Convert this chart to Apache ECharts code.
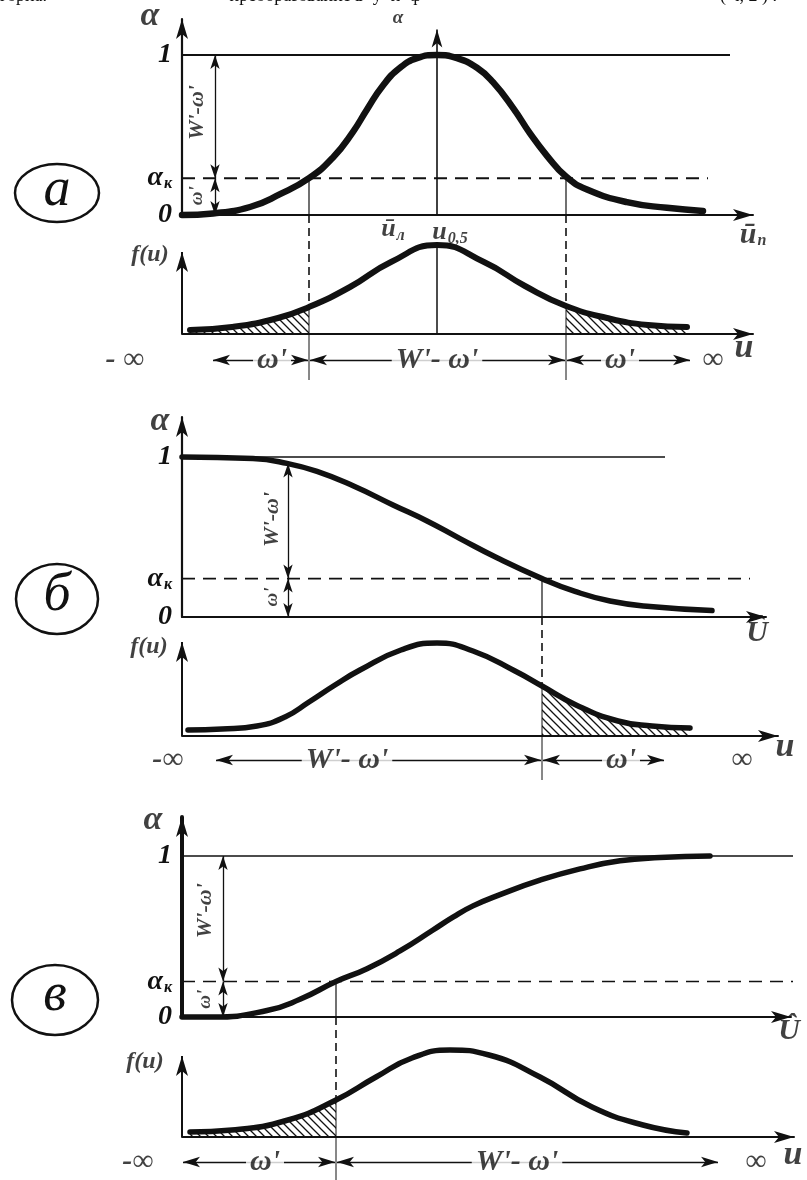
<!DOCTYPE html>
<html><head><meta charset="utf-8">
<script src="https://cdn.jsdelivr.net/npm/echarts@6/dist/echarts.min.js"></script>
<style>html,body{margin:0;padding:0;background:#fff}#c{width:807px;height:1180px}</style>
</head><body><div id="c"></div>
<script>
// ---------- DATA (u in drawing units, α in 0..1, f in arbitrary density units) ----------
// Panel а
const A_AK = 0.23;
const aAlphaU = [0,3.1,6.8,9.8,12.7,15.1,17.1,18.5,20.1,21.8,23.5,25.5,27.5,29.5,31.1,33.1,34.8,36.5,38.4,40.5,44.5,48.5,52.1];
const aAlphaV = [0,0.01,0.05,0.13,0.23,0.36,0.52,0.66,0.81,0.92,0.98,1.00,0.98,0.92,0.83,0.67,0.51,0.37,0.24,0.16,0.08,0.045,0.025];
const aFU = [0.8,5.0,9.6,12.7,16.8,20.9,25.5,30.2,34.3,38.4,42.5,46.6,50.5];
const aFV = [0.04,0.07,0.16,0.27,0.47,0.72,0.89,0.72,0.48,0.28,0.16,0.09,0.07];
const aBounds = [12.7, 38.4];
const aCenter = 25.5;
// Panel б
const B_AK = 0.24;
const bAlphaU = [0,7.1,10.5,13.5,17.1,21.1,24.5,27.8,31.5,36.0,39.3,42.8,46.8,53.0];
const bAlphaV = [1.0,0.99,0.96,0.91,0.82,0.70,0.60,0.49,0.37,0.24,0.16,0.10,0.065,0.04];
const bFU = [0.6,4.0,7.5,10.3,12.7,15.3,17.8,21.9,25.5,29.1,33.3,36.0,39.4,43.6,47.0,50.8];
const bFV = [0.06,0.07,0.10,0.19,0.34,0.51,0.66,0.86,0.93,0.85,0.65,0.50,0.31,0.15,0.10,0.08];
const bBound = 36.0;
// Panel в
const C_AK = 0.22;
const cAlphaU = [0,3.1,8.5,11.8,15.4,18.5,21.8,25.1,27.1,29.1,31.8,35.8,39.8,43.8,47.8,52.8];
const cAlphaV = [0,0.0,0.04,0.11,0.22,0.30,0.41,0.54,0.62,0.69,0.76,0.85,0.92,0.97,0.99,1.0];
const cFU = [0.8,5.0,10.6,15.4,19.4,23.0,26.8,30.7,35.8,41.0,46.1,50.5];
const cFV = [0.05,0.07,0.17,0.37,0.60,0.79,0.87,0.82,0.60,0.30,0.12,0.04];
const cBound = 15.4;

// ---------- STYLE ----------
const INK = '#111';
const FONT = '"Liberation Serif","DejaVu Serif",serif';
const SMOOTH = 0.5;
const grids = [
  {left:182, top:19,   width:571, height:196},
  {left:182, top:252,  width:571, height:133},
  {left:182, top:417,  width:584, height:200},
  {left:182, top:642,  width:596, height:143},
  {left:182, top:817,  width:609, height:200},
  {left:182, top:1056, width:612, height:124}
];
const xMax = [57.1,57.1,58.4,59.6,60.9,61.2];
const yMin = [0,-0.51,0,-0.49,0,-0.43];
const yMax = [1.225,0.82,1.25,0.94,1.242,0.81];
const akOf = {0:A_AK, 2:B_AK, 4:C_AK};

const hatchCanvas = document.createElement('canvas');
hatchCanvas.width = 8; hatchCanvas.height = 8;
(function(){const g=hatchCanvas.getContext('2d');g.strokeStyle=INK;g.lineWidth=1.3;g.beginPath();
 g.moveTo(0,0);g.lineTo(8,8);g.moveTo(-4,4);g.lineTo(4,12);g.moveTo(4,-4);g.lineTo(12,4);g.stroke();})();

const RICH = {
  s:{fontSize:16, fontFamily:FONT, fontStyle:'italic', fontWeight:'bold', color:INK, padding:[12,0,0,1]}
};

const series = [];
const zip = (us,vs)=>us.map((u,i)=>[u,vs[i]]);
function curve(g, us, vs, w){
  series.push({type:'line', xAxisIndex:g, yAxisIndex:g, data:zip(us,vs), smooth:SMOOTH, symbol:'none', clip:false, silent:true,
    lineStyle:{color:INK, width:w, cap:'round', join:'round'}, z:5, animation:false});
}
function hatch(g, us, vs, lo, hi){
  const pts = zip(us,vs).filter(p=>p[0]>=lo-1e-9 && p[0]<=hi+1e-9);
  series.push({type:'line', xAxisIndex:g, yAxisIndex:g, data:pts, smooth:SMOOTH, symbol:'none', clip:false, silent:true,
    lineStyle:{width:0, opacity:0}, areaStyle:{color:{image:hatchCanvas, repeat:'repeat'}, opacity:1}, z:3, animation:false});
}
function seg(g, pts, opt){
  opt = opt || {};
  series.push({type:'line', xAxisIndex:g, yAxisIndex:g, data:pts, symbol:'none', clip:false, silent:true,
    lineStyle:{color:INK, width:opt.w||1.3, type:opt.dash||'solid'}, z:4, animation:false});
}
function arrows(g, list){
  series.push({type:'line', xAxisIndex:g, yAxisIndex:g, data:[[0,0]], symbol:'none', silent:true, lineStyle:{opacity:0}, z:4, animation:false,
    markLine:{silent:true, animation:false, label:{show:false}, emphasis:{disabled:true},
      lineStyle:{color:INK, width:1.3, type:'solid'},
      data:list.map(l=>{
        const s = l.sym || ['arrow','arrow'];
        const sz = l.size || [7,14];
        return [{coord:l.a, symbol:s[0], symbolSize:sz, lineStyle:{color:INK, width:l.w||1.3, type:'solid'}},
                {coord:l.b, symbol:s[1], symbolSize:sz}];
      })}});
}
function texts(g, list){
  series.push({type:'scatter', xAxisIndex:g, yAxisIndex:g, clip:false, silent:true, symbolSize:1,
    itemStyle:{color:'rgba(0,0,0,0)'}, z:10, animation:false,
    data:list.map(t=>({value:[t.u,t.v], label:{show:true, position:'inside', formatter:t.text, rotate:t.rot||0,
      fontSize:t.size||20, fontFamily:FONT, fontStyle:'italic', fontWeight:'bold', color:INK,
      backgroundColor:t.bg?'#fff':'transparent', padding:t.bg?[0,4]:0, rich:RICH}}))});
}
const BIG = [8,17];

// ---------- Panel а ----------
hatch(1, aFU, aFV, aFU[0], aBounds[0]);
hatch(1, aFU, aFV, aBounds[1], aFU[aFU.length-1]);
curve(0, aAlphaU, aAlphaV, 6.5);
curve(1, aFU, aFV, 6);
seg(0, [[0,1],[54.8,1]], {w:2.2});
seg(0, [[0,A_AK],[52.6,A_AK]], {w:2, dash:[13,8]});
aBounds.forEach(b=>{
  seg(0, [[b,A_AK],[b,0]], {w:1.2});
  const fb = aFV[aFU.indexOf(b)];
  seg(1, [[b,1.19],[b,fb]], {w:1.6, dash:[8,5]});
  seg(1, [[b,fb],[b,-0.46]], {w:1});
});
seg(1, [[aCenter,0.89],[aCenter,0]], {w:1.5});
arrows(0, [
  {a:[3.3,1], b:[3.3,A_AK]}, {a:[3.3,A_AK], b:[3.3,0]},
  {a:[aCenter,0], b:[aCenter,1.16], sym:['none','arrow'], size:[8,18], w:1.6}
]);
arrows(1, [
  {a:[0,0], b:[0,0.819], sym:['none','arrow'], size:[9,20], w:2},
  {a:[3.1,-0.26], b:[12.6,-0.26], size:BIG}, {a:[12.8,-0.26], b:[38.3,-0.26], size:BIG}, {a:[38.5,-0.26], b:[50.8,-0.26], size:BIG}
]);
texts(0, [
  {u:-3.2, v:1.24, text:'α', size:34},
  {u:21.6, v:1.23, text:'α', size:19},
  {u:1.5, v:0.64, text:"W'-ω'", rot:90, size:22},
  {u:1.5, v:0.12, text:"ω'", rot:90, size:19},
  {u:21.1, v:-0.09, text:'ū{s|л}', size:26},
  {u:26.8, v:-0.11, text:'u{s|0,5}', size:26},
  {u:57.1, v:-0.125, text:'ū{s|п}', size:30}
]);
texts(1, [
  {u:-3.2, v:0.79, text:'f(u)', size:24},
  {u:-5.7, v:-0.26, text:'- ∞', size:30},
  {u:9.0, v:-0.26, text:"ω'", size:30, bg:true},
  {u:25.5, v:-0.26, text:"W'- ω'", size:30, bg:true},
  {u:43.8, v:-0.26, text:"ω'", size:30, bg:true},
  {u:53.1, v:-0.26, text:'∞', size:30},
  {u:56.2, v:-0.14, text:'u', size:34}
]);

// ---------- Panel б ----------
hatch(3, bFU, bFV, bBound, bFU[bFU.length-1]);
curve(2, bAlphaU, bAlphaV, 5.5);
curve(3, bFU, bFV, 5.5);
seg(2, [[0,1],[48.3,1]], {w:1.6});
seg(2, [[0,B_AK],[56.8,B_AK]], {w:1.6, dash:[13,8]});
seg(2, [[bBound,B_AK],[bBound,0]], {w:1.2});
seg(3, [[bBound,1.19],[bBound,0.50]], {w:1.6, dash:[8,5]});
seg(3, [[bBound,0.50],[bBound,-0.44]], {w:1});
arrows(2, [{a:[10.6,0.96], b:[10.6,B_AK]}, {a:[10.6,B_AK], b:[10.6,0]}]);
arrows(3, [
  {a:[0,0], b:[0,0.939], sym:['none','arrow'], size:[9,20], w:2},
  {a:[3.4,-0.24], b:[35.9,-0.24], size:BIG}, {a:[36.1,-0.24], b:[48.2,-0.24], size:BIG}
]);
texts(2, [
  {u:-2.2, v:1.225, text:'α', size:34},
  {u:9.0, v:0.61, text:"W'-ω'", rot:90, size:22},
  {u:9.0, v:0.125, text:"ω'", rot:90, size:19},
  {u:57.5, v:-0.1, text:'Û', size:30}
]);
texts(3, [
  {u:-3.3, v:0.89, text:'f(u)', size:24},
  {u:-1.4, v:-0.24, text:'-∞', size:30},
  {u:16.5, v:-0.24, text:"W'- ω'", size:30, bg:true},
  {u:43.9, v:-0.24, text:"ω'", size:30, bg:true},
  {u:56.0, v:-0.24, text:'∞', size:30},
  {u:60.3, v:-0.11, text:'u', size:34}
]);

// ---------- Panel в ----------
hatch(5, cFU, cFV, cFU[0], cBound);
curve(4, cAlphaU, cAlphaV, 5.5);
curve(5, cFU, cFV, 5.5);
seg(4, [[0,1],[62.5,1]], {w:1.6});
seg(4, [[0,C_AK],[62.5,C_AK]], {w:1.6, dash:[13,8]});
seg(4, [[cBound,C_AK],[cBound,0]], {w:1.2});
seg(5, [[cBound,1.20],[cBound,0.37]], {w:1.6, dash:[8,5]});
seg(5, [[cBound,0.37],[cBound,-0.43]], {w:1});
arrows(4, [{a:[4.1,1], b:[4.1,C_AK]}, {a:[4.1,C_AK], b:[4.1,0]}]);
arrows(5, [
  {a:[0,0], b:[0,0.809], sym:['none','arrow'], size:[9,20], w:2},
  {a:[0.1,-0.25], b:[15.3,-0.25], size:BIG}, {a:[15.5,-0.25], b:[53.6,-0.25], size:BIG}
]);
texts(4, [
  {u:-2.9, v:1.22, text:'α', size:34},
  {u:2.3, v:0.66, text:"W'-ω'", rot:90, size:22},
  {u:2.3, v:0.11, text:"ω'", rot:90, size:19},
  {u:60.7, v:-0.09, text:'Û', size:30}
]);
texts(5, [
  {u:-3.7, v:0.75, text:'f(u)', size:24},
  {u:-4.4, v:-0.25, text:'-∞', size:30},
  {u:8.3, v:-0.25, text:"ω'", size:30, bg:true},
  {u:33.5, v:-0.25, text:"W'- ω'", size:30, bg:true},
  {u:57.4, v:-0.25, text:'∞', size:30},
  {u:61.1, v:-0.18, text:'u', size:34}
]);

// ---------- AXES ----------
const xAxis = grids.map((g,i)=>({gridIndex:i, type:'value', min:0, max:xMax[i],
  axisLine:{show:true, onZero:true, symbol:['none','arrow'], symbolSize:[9,20], lineStyle:{color:INK, width:2}},
  axisTick:{show:false}, axisLabel:{show:false}, splitLine:{show:false}}));
const yAxis = grids.map((g,i)=>{
  const top = (i%2===0);
  const ak = akOf[i];
  return {gridIndex:i, type:'value', min:yMin[i], max:yMax[i], show:true,
    axisLine:{show:top, onZero:true, symbol:['none','arrow'], symbolSize:[9,20], lineStyle:{color:INK, width: i===4?4:2.2}},
    axisTick:{show:false}, splitLine:{show:false},
    axisLabel:{show:top, customValues: top?[0, ak, 1]:undefined, margin:10, color:INK,
      fontFamily:FONT, fontStyle:'italic', fontWeight:'bold', fontSize:28,
      formatter:(v)=>{ if (Math.abs(v)<1e-6) return '0'; if (Math.abs(v-1)<1e-6) return '1'; return 'α{s|к}'; },
      rich:{s:{fontSize:16, fontFamily:FONT, fontStyle:'italic', fontWeight:'bold', color:INK, padding:[12,0,0,1]}}}};
});

const letterStyle = {fontSize:54, fontStyle:'italic', fontFamily:FONT, fill:INK, align:'center', verticalAlign:'middle'};
const option = {
  animation:false,
  backgroundColor:'#fff',
  grid: grids.map(g=>Object.assign({containLabel:false}, g)),
  xAxis, yAxis, series,
  graphic:[
    {type:'ellipse', shape:{cx:57, cy:193, rx:42, ry:29}, style:{fill:'none', stroke:INK, lineWidth:2.5}},
    {type:'text', x:57, y:191, style:Object.assign({text:'а'}, letterStyle)},
    {type:'ellipse', shape:{cx:57, cy:599, rx:41, ry:35}, style:{fill:'none', stroke:INK, lineWidth:2.5}},
    {type:'text', x:57, y:596, style:Object.assign({text:'б'}, letterStyle)},
    {type:'ellipse', shape:{cx:55, cy:1000, rx:43, ry:35}, style:{fill:'none', stroke:INK, lineWidth:2.5}},
    {type:'text', x:55, y:996, style:Object.assign({text:'в'}, letterStyle)},
    {type:'text', x:0, y:-13, style:{text:'горна.', fontSize:18, fontFamily:FONT, fill:INK}},
    {type:'text', x:216, y:-13, style:{text:'– преобразование в  у  н  ф', fontSize:18, fontFamily:FONT, fill:INK}},
    {type:'text', x:720, y:-13, style:{text:'( ч, 2 ) .', fontSize:18, fontFamily:FONT, fill:INK}}
  ]
};
const chart = echarts.init(document.getElementById('c'));
chart.setOption(option);
</script>
</body></html>
